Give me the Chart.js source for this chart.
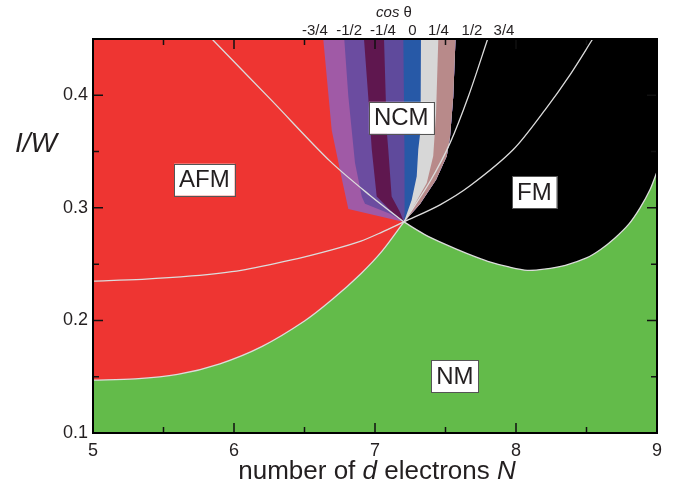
<!DOCTYPE html>
<html>
<head>
<meta charset="utf-8">
<script src="https://cdn.jsdelivr.net/npm/chart.js@4.4.1/dist/chart.umd.min.js"></script>
<style>
  html, body { margin: 0; padding: 0; background: #fff; }
  #chart { display: block; }
</style>
</head>
<body>
<canvas id="chart" width="676" height="491"></canvas>
<script>
// axis ticks
const xTicks = [5, 6, 7, 8, 9];
const xMinorTicks = [5.5, 6.5, 7.5, 8.5];
const yTicks = [0.1, 0.2, 0.3, 0.4];
const yMinorTicks = [0.15, 0.25, 0.35];

// phase boundaries, as [N, I/W]
const plotBox = [[5, 0.1], [9, 0.1], [9, 0.45], [5, 0.45]];
const afmNmEdge = [[5.0, 0.147], [5.3, 0.148], [5.6, 0.152], [5.9, 0.1615], [6.2, 0.177], [6.5, 0.1995],
  [6.7, 0.219], [6.9, 0.2415], [7.05, 0.2615], [7.205, 0.2875]];
const fmNmEdge = [[7.205, 0.2875], [7.35, 0.2765], [7.5, 0.2675], [7.65, 0.2595], [7.8, 0.2525], [7.95, 0.2475],
  [8.08, 0.2445], [8.2, 0.2455], [8.35, 0.249], [8.5, 0.2555], [8.6, 0.263], [8.7, 0.273], [8.8, 0.2855],
  [8.88, 0.300], [8.95, 0.316], [9.0, 0.332]];

// cos(theta) contours inside the NCM fan, left to right (top -> triple point)
const cosEdge0 = [[6.633, 0.45], [6.693, 0.369], [6.766, 0.325], [6.811, 0.299], [7.0, 0.2935], [7.205, 0.2875]];
const cosEdge1 = [[6.782, 0.45], [6.811, 0.399], [6.858, 0.340], [6.906, 0.310], [6.929, 0.3036], [7.106, 0.2947], [7.205, 0.2875]];
const cosEdge2 = [[6.922, 0.45], [6.952, 0.399], [6.977, 0.352], [7.012, 0.310], [7.106, 0.298], [7.205, 0.2875]];
const cosEdge3 = [[7.064, 0.45], [7.083, 0.369], [7.094, 0.352], [7.118, 0.310], [7.177, 0.2964], [7.205, 0.2875]];
const cosEdge4 = [[7.201, 0.45], [7.209, 0.352], [7.21, 0.296], [7.205, 0.2875]];
const cosEdge5 = [[7.326, 0.45], [7.323, 0.369], [7.307, 0.352], [7.296, 0.328], [7.26, 0.307], [7.205, 0.2875]];
const cosEdge6 = [[7.449, 0.45], [7.433, 0.384], [7.413, 0.346], [7.367, 0.322], [7.272, 0.301], [7.205, 0.2875]];
const cosEdge7 = [[7.571, 0.45], [7.555, 0.399], [7.532, 0.363], [7.509, 0.346], [7.433, 0.325], [7.319, 0.3035], [7.205, 0.2875]];

// thin white lines
const afmInnerLine = [[5.0, 0.235], [5.35, 0.2365], [5.7, 0.2395], [6.05, 0.2445], [6.4, 0.2535], [6.7, 0.263],
  [6.9, 0.2705], [7.05, 0.2785], [7.205, 0.2875]];
const afmUpperLine = [[5.844, 0.45], [6.27, 0.395], [6.681, 0.3415], [6.965, 0.311], [7.205, 0.2875]];
const fmLineA = [[7.205, 0.2875], [7.39, 0.3234], [7.532, 0.3575], [7.662, 0.3989], [7.799, 0.45]];
const fmLineB = [[7.205, 0.2875], [7.461, 0.3027], [7.674, 0.3196], [7.979, 0.3516], [8.206, 0.3871], [8.383, 0.4182], [8.544, 0.45]];

// labels
const phaseNames = ['AFM', 'NCM', 'FM', 'NM'];
const phaseLabelN = [5.79, 7.186, 8.13, 7.567];
const phaseLabelY = [0.325, 0.380, 0.314, 0.1505];
const cosLabels = ['-3/4', '-1/2', '-1/4', '0', '1/4', '1/2', '3/4'];
const cosLabelN = [6.574, 6.816, 7.057, 7.266, 7.45, 7.688, 7.915];
const cosTitleN = 7.135;

const cosEdges = [cosEdge0, cosEdge1, cosEdge2, cosEdge3, cosEdge4, cosEdge5, cosEdge6];
const stripeColors = ['#a05aa6', '#6b4ca0', '#5f174f', '#5f4a9c', '#2759a7', '#d7d7d7', '#b88a8a'];

const FONT = "'Liberation Sans', Arial, Helvetica, sans-serif";
const TEXT = '#231f20';
const CURVE = 0.3;

function pts(list) {
  return list.map(([x, y]) => ({ x, y }));
}

// filled area: either a closed shape or everything above a curve
function area(list, color, fill, tension, order) {
  return {
    data: pts(list),
    backgroundColor: color,
    borderColor: 'transparent',
    borderWidth: 0,
    pointRadius: 0,
    fill: fill,
    tension: tension,
    order: order
  };
}

function whiteLine(list) {
  return {
    data: pts(list),
    borderColor: '#dcdcdc',
    borderWidth: 1.3,
    pointRadius: 0,
    fill: false,
    tension: CURVE,
    order: 1
  };
}

const ncmRightSide = cosEdge7.slice(0, -1).reverse();

const datasets = [];
datasets.push(area(plotBox, '#63bb4a', 'shape', 0, 30));
datasets.push(area(afmNmEdge, '#ee3532', 'end', CURVE, 29));
datasets.push(area(fmNmEdge, '#000000', 'end', CURVE, 28));
cosEdges.forEach((edge, i) => {
  datasets.push(area([...edge, ...ncmRightSide], stripeColors[i], 'shape', 0, 27 - i));
});
[afmNmEdge, fmNmEdge, afmInnerLine, afmUpperLine, fmLineA, fmLineB].forEach(l => datasets.push(whiteLine(l)));

// frame, inward ticks, phase labels and axis titles
const decorations = {
  id: 'decorations',
  afterDatasetsDraw(chart) {
    const { ctx, chartArea: a, scales: { x, y } } = chart;
    ctx.save();

    // phase name boxes
    ctx.font = `24px ${FONT}`;
    ctx.textAlign = 'center';
    ctx.textBaseline = 'middle';
    phaseNames.forEach((name, i) => {
      const px = x.getPixelForValue(phaseLabelN[i]);
      const py = y.getPixelForValue(phaseLabelY[i]);
      const w = ctx.measureText(name).width + 10;
      const h = 32;
      ctx.fillStyle = '#fff';
      ctx.fillRect(px - w / 2, py - h / 2, w, h);
      ctx.strokeStyle = '#555';
      ctx.lineWidth = 1;
      ctx.strokeRect(Math.round(px - w / 2) + 0.5, Math.round(py - h / 2) + 0.5, Math.round(w), h);
      ctx.fillStyle = TEXT;
      ctx.fillText(name, px, py + 1);
    });

    // ticks on all four sides
    ctx.strokeStyle = '#111';
    ctx.lineWidth = 1.5;
    ctx.beginPath();
    const xt = (v, len) => {
      const p = x.getPixelForValue(v);
      ctx.moveTo(p, a.bottom); ctx.lineTo(p, a.bottom - len);
      ctx.moveTo(p, a.top); ctx.lineTo(p, a.top + len);
    };
    const yt = (v, len) => {
      const p = y.getPixelForValue(v);
      ctx.moveTo(a.left, p); ctx.lineTo(a.left + len, p);
      ctx.moveTo(a.right, p); ctx.lineTo(a.right - len, p);
    };
    xTicks.forEach(v => xt(v, 10));
    xMinorTicks.forEach(v => xt(v, 6));
    yTicks.forEach(v => yt(v, 10));
    yMinorTicks.forEach(v => yt(v, 6));
    ctx.stroke();

    ctx.lineWidth = 2;
    ctx.strokeStyle = '#000';
    ctx.strokeRect(a.left, a.top, a.right - a.left, a.bottom - a.top);
    ctx.restore();
  },
  afterDraw(chart) {
    const { ctx, scales: { x } } = chart;
    ctx.save();
    ctx.fillStyle = TEXT;
    ctx.textBaseline = 'alphabetic';

    // cos theta labels above the plot
    ctx.font = `15px ${FONT}`;
    ctx.textAlign = 'center';
    cosLabels.forEach((t, i) => ctx.fillText(t, x.getPixelForValue(cosLabelN[i]), 35));
    drawRuns(ctx, [['cos', 'italic 15px'], [' \u03b8', '15px']], x.getPixelForValue(cosTitleN), 17);

    // y title
    ctx.font = `italic 28px ${FONT}`;
    ctx.textAlign = 'center';
    ctx.fillText('I/W', 36, 152);

    // x title
    drawRuns(ctx, [['number of ', '26px'], ['d', 'italic 26px'], [' electrons ', '26px'], ['N', 'italic 26px']], 377, 479);
    ctx.restore();
  }
};

function drawRuns(ctx, runs, cx, baseline) {
  let total = 0;
  runs.forEach(([t, f]) => { ctx.font = `${f} ${FONT}`; total += ctx.measureText(t).width; });
  let px = cx - total / 2;
  ctx.textAlign = 'left';
  runs.forEach(([t, f]) => {
    ctx.font = `${f} ${FONT}`;
    ctx.fillText(t, px, baseline);
    px += ctx.measureText(t).width;
  });
}

new Chart(document.getElementById('chart'), {
  type: 'line',
  data: { datasets: datasets },
  options: {
    responsive: false,
    animation: false,
    devicePixelRatio: 1,
    layout: { padding: { left: 0, right: 19, top: 39, bottom: 0 } },
    plugins: {
      legend: { display: false },
      tooltip: { enabled: false }
    },
    scales: {
      x: {
        type: 'linear',
        min: 5,
        max: 9,
        afterBuildTicks: s => { s.ticks = xTicks.map(v => ({ value: v })); },
        afterFit: s => { s.height = 58; },
        grid: { display: false, drawTicks: false },
        border: { display: false },
        ticks: {
          autoSkip: false,
          maxRotation: 0,
          padding: 7,
          color: TEXT,
          font: { family: FONT, size: 18 },
          callback: v => String(v)
        }
      },
      y: {
        type: 'linear',
        min: 0.1,
        max: 0.45,
        afterBuildTicks: s => { s.ticks = yTicks.map(v => ({ value: v })); },
        afterFit: s => { s.width = 93; },
        grid: { display: false, drawTicks: false },
        border: { display: false },
        ticks: {
          autoSkip: false,
          padding: 5,
          color: TEXT,
          font: { family: FONT, size: 18 },
          callback: v => v.toFixed(1)
        }
      }
    }
  },
  plugins: [decorations]
});
</script>
</body>
</html>
